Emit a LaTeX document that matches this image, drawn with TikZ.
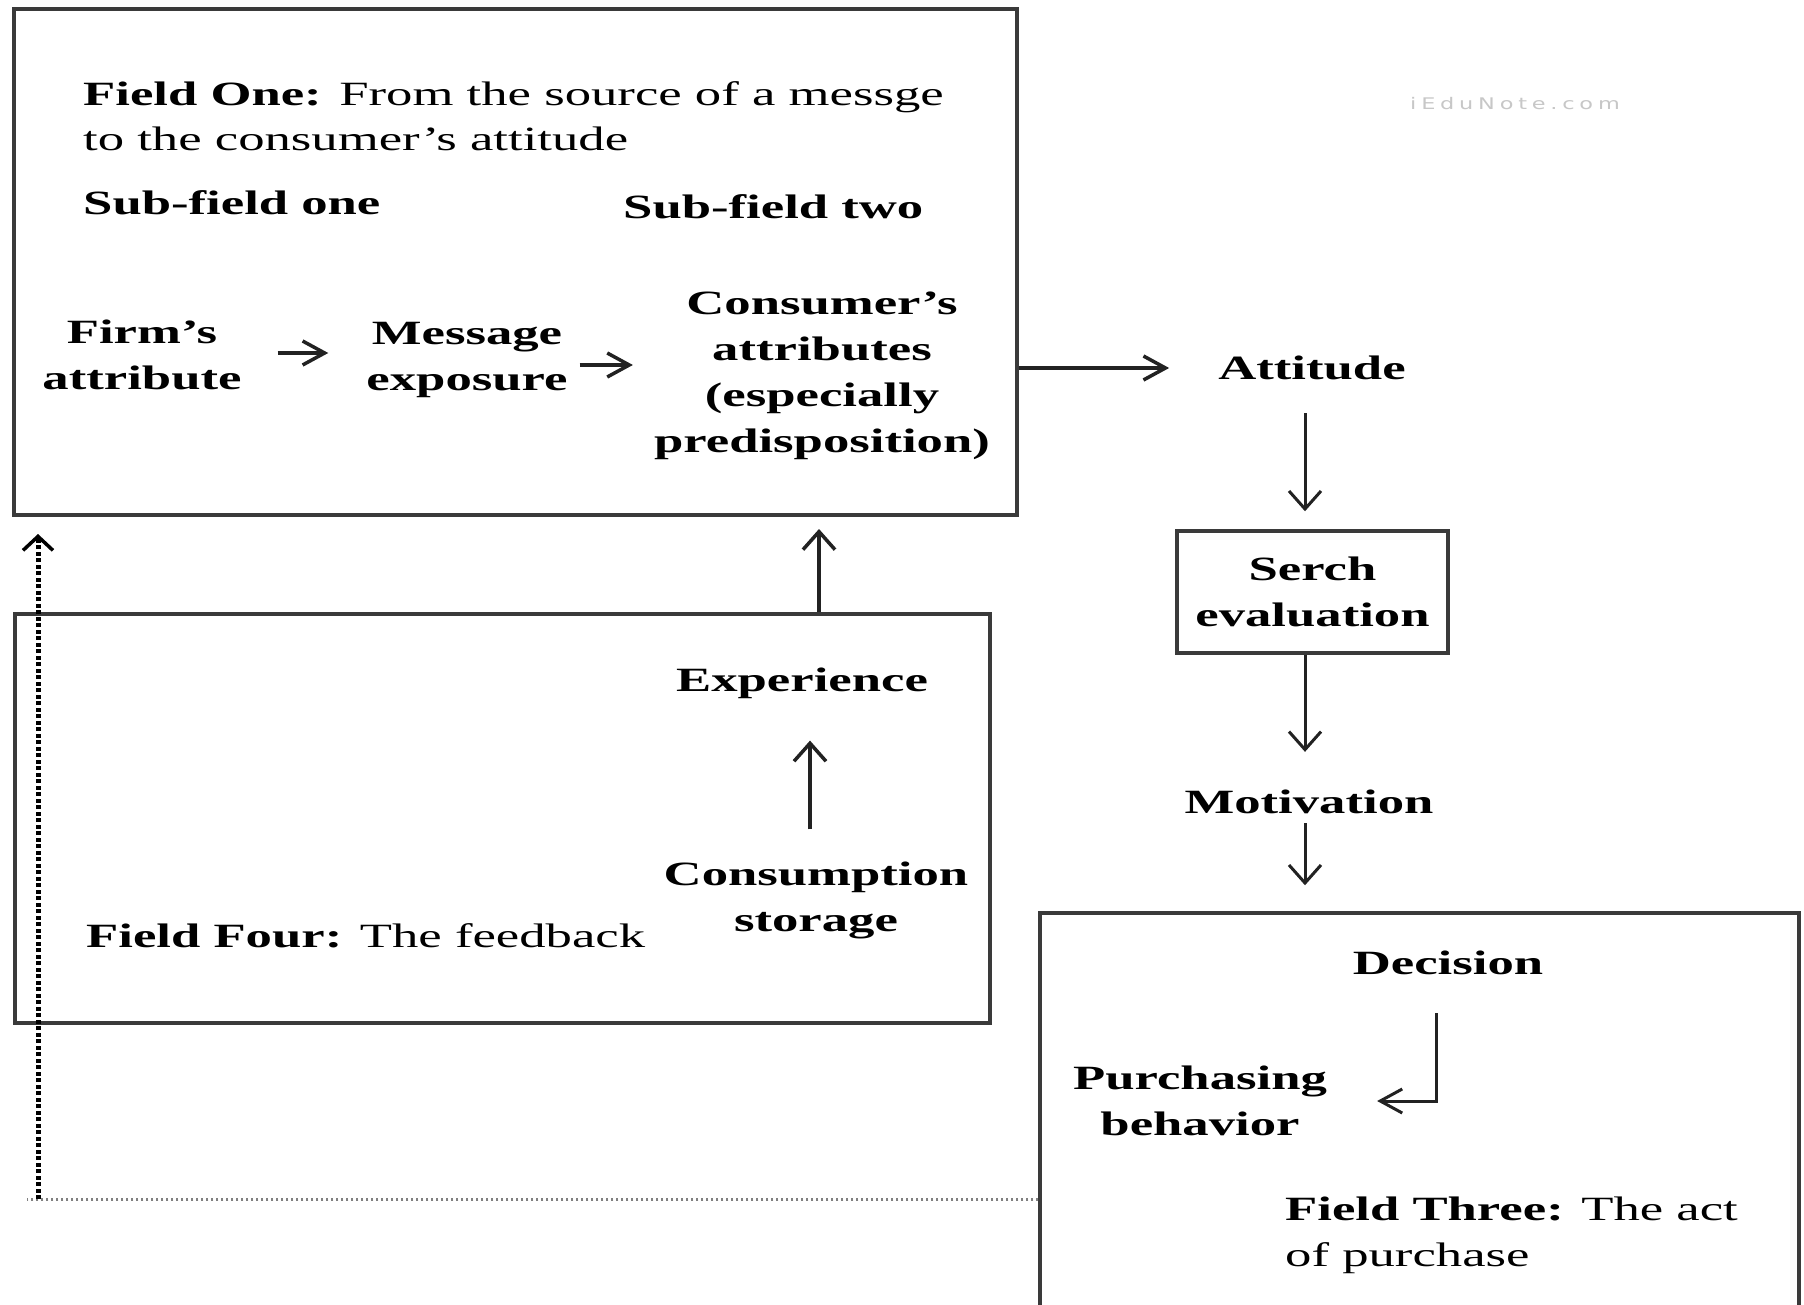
\documentclass[tikz,border=0pt]{standalone}
\usepackage{fontspec}
\setmainfont[FakeStretch=1.55]{Liberation Serif}
\newfontfamily\wmfont[LetterSpace=30,FakeStretch=1.4]{DejaVu Sans}
\usetikzlibrary{arrows.meta}
\definecolor{boxline}{HTML}{3A3A3A}
\definecolor{inkline}{HTML}{222222}
\begin{document}
\begin{tikzpicture}[x=1pt,y=-1pt,
  every node/.style={inner sep=0pt, font=\fontsize{34}{46}\selectfont\bfseries},
  plaintxt/.style={font=\fontsize{34}{46}\selectfont},
  box/.style={draw=boxline, line width=4pt, rectangle},
  harr/.style={draw=inkline, line width=3.5pt, -{Straight Barb[length=22pt,width=24pt]}},
  varr/.style={draw=inkline, line width=3.5pt, -{Straight Barb[length=18pt,width=32pt]}},
  vdot/.style={draw=black, line width=5pt, dash pattern=on 4pt off 2.5pt, -{Straight Barb[length=14pt,width=30pt,line width=3.5pt]}},
  hdot/.style={draw=gray, line width=3pt, dash pattern=on 2.5pt off 2.5pt}]
\useasboundingbox (0,0) rectangle (1804,1305);
\clip (0,0) rectangle (1804,1305);
\fill[white] (0,0) rectangle (1804,1305);

% boxes
\node[box, minimum width=1003pt, minimum height=506pt] (f1) at (515.5,262) {};
\node[box, line width=3.5pt, minimum width=975pt, minimum height=409pt] (f4) at (502.5,818.5) {};
\node[box, line width=3.5pt, minimum width=271pt, minimum height=122pt, align=center] (srch) at (1312.5,592) {Serch\\evaluation};
\node[box, line width=3.5pt, minimum width=759pt, minimum height=487pt] (f3) at (1419.5,1156.5) {};

% field one texts
\node[anchor=west, align=left, plaintxt, font=\fontsize{34}{45}\selectfont] (t1) at (83,116) {\textbf{Field One:} From the source of a messge\\to the consumer’s attitude};
\node[anchor=west] (s1) at (83,203) {Sub-field one};
\node[anchor=west] (s2) at (623,207) {Sub-field two};
\node[align=center] (firm) at (142,355) {Firm’s\\attribute};
\node[align=center] (msg) at (467,360) {Message\\exposure};
\node[align=center] (cons) at (822,376) {Consumer’s\\attributes\\(especially\\predisposition)};

% right column
\node (att) at (1312,368) {Attitude};
\node (mot) at (1309,802) {Motivation};
\node (dec) at (1448,963) {Decision};
\node[align=center] (pur) at (1200,1101) {Purchasing\\behavior};
\node[anchor=west, align=left, plaintxt] (t3) at (1285,1235) {\textbf{Field Three:} The act\\of purchase};

% field four texts
\node (exp) at (802,683) {Experience};
\node[align=center] (cst) at (816,900) {Consumption\\storage};
\node[anchor=west, plaintxt] (t4) at (86,936) {\textbf{Field Four:} The feedback};

% watermark
\node[text=black!22, font=\wmfont\fontsize{16}{18}\selectfont] (wm) at (1515,104) {iEduNote.com};

% helper coordinates
\coordinate (ya) at (0,353);
\coordinate (yb) at (0,365);
\coordinate (rx) at (1305,0);
\coordinate (lx) at (1436,0);
\coordinate (ex) at (810,0);
\coordinate (cx) at (819,0);
\coordinate (dc) at (38,1199);

% connectors
\draw[harr, shorten <=36pt, shorten >=38pt] (firm.east |- ya) -- (msg.west |- ya);
\draw[harr, shorten <=12pt, shorten >=21pt] (msg.east |- yb) -- (cons.west |- yb);
\draw[harr, shorten >=49pt] (f1.east |- att) -- (att.west);
\draw[varr, line width=3pt, shorten <=33pt, shorten >=18pt] (att.south -| rx) -- (srch.north -| rx);
\draw[varr, line width=3pt, shorten >=38pt] (srch.south -| rx) -- (mot.north -| rx);
\draw[varr, line width=3pt, shorten <=9pt, shorten >=26pt] (mot.south -| rx) -- (f3.north -| rx);
\draw[harr, line width=3pt, shorten <=38pt, shorten >=50pt] (dec.south -| lx) |- (pur.east);
\draw[varr, shorten <=32pt, shorten >=42pt] (cst.north -| ex) -- (exp.south -| ex);
\draw[varr, shorten >=12pt] (f4.north -| cx) -- (f1.south -| cx);
\draw[hdot] (f3.west |- dc) -- ([xshift=-11pt]dc);
\draw[vdot, shorten >=17pt] (dc) -- (dc |- f1.south);
\end{tikzpicture}
\end{document}
